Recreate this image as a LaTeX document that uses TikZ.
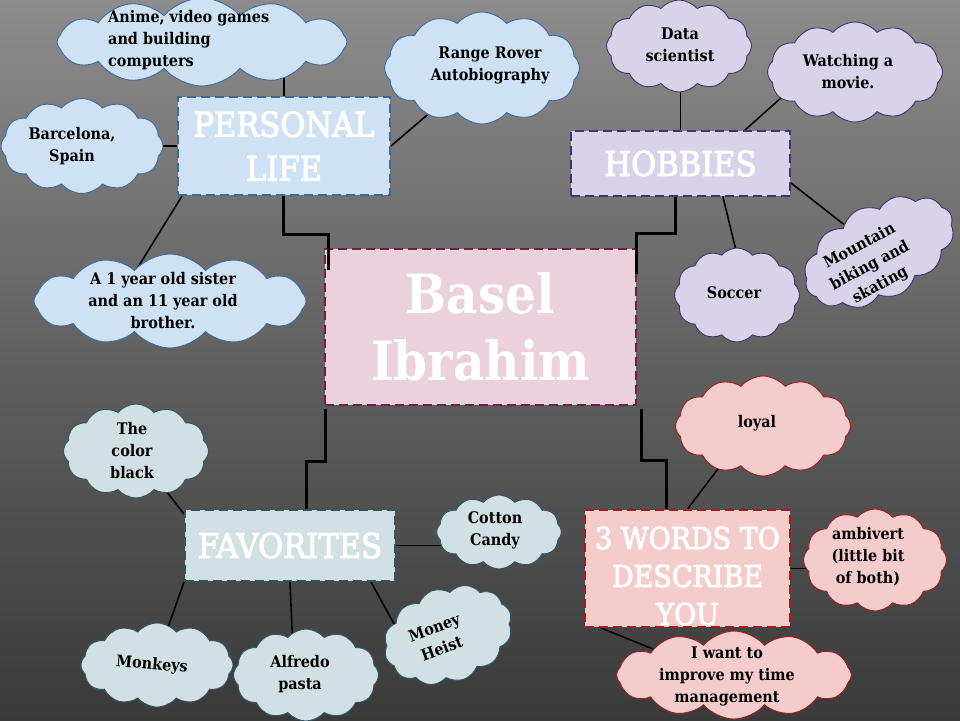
\documentclass[tikz,border=0pt]{standalone}
\usepackage{fontspec}
\setmainfont{DejaVu Serif Condensed}
\newfontfamily\headfont[FakeBold=3]{DejaVu Serif Condensed}
\usetikzlibrary{shapes.symbols,calc}
\pgfdeclarelayer{bglayer}
\pgfdeclarelayer{linelayer}
\pgfsetlayers{bglayer,linelayer,main}
\definecolor{bgtop}{HTML}{8C8C8C}
\definecolor{bgmid}{HTML}{606060}
\definecolor{bgbot}{HTML}{3A3A3A}
\definecolor{blfill}{HTML}{CFE2F3}
\definecolor{bldraw}{HTML}{3D6A9E}
\definecolor{pufill}{HTML}{D9D2E9}
\definecolor{pudraw}{HTML}{3F3470}
\definecolor{tefill}{HTML}{D0E0E3}
\definecolor{tedraw}{HTML}{2F5663}
\definecolor{pkfill}{HTML}{F4CCCC}
\definecolor{pkdraw}{HTML}{A01C1C}
\definecolor{ctfill}{HTML}{EAD1DC}
\definecolor{ctdraw}{HTML}{741B47}
\tikzset{
  catbox/.style 2 args={rectangle, fill=#1, draw=#2, line width=2pt,
    dash pattern=on 9pt off 5pt,
    preaction={draw=white!55!#1, line width=2pt},
    text=white, align=center, inner sep=0pt,
    font=\headfont\fontsize{34}{44}\selectfont},
  cloudb/.style 2 args={cloud, cloud puffs=12, cloud puff arc=100,
    cloud ignores aspect, fill=#1, draw=#2, line width=0.9pt, inner sep=0pt},
  ctext/.style={align=center, text=black,
    font=\bfseries\fontsize{16}{22}\selectfont, inner sep=0pt},
  thinline/.style={draw=black, line width=1.6pt},
  thickline/.style={draw=black, line width=3pt}
}
\begin{document}
\begin{tikzpicture}[x=1pt,y=-1pt]
\useasboundingbox (0,0) rectangle (960,720);
\begin{pgfonlayer}{bglayer}
\shade[top color=bgtop, bottom color=bgbot, middle color=bgmid] (0,0) rectangle (960,720);
\end{pgfonlayer}

% category boxes
\node[catbox={ctfill}{ctdraw}, minimum width=311pt, minimum height=156pt,
  font=\bfseries\fontsize{54}{69}\selectfont] (ct) at (480.5,327) {Basel\\[-2pt]Ibrahim};
\node[catbox={blfill}{bldraw}, minimum width=212pt, minimum height=98pt] (pl) at (284,146) {PERSONAL\\LIFE};
\node[catbox={pufill}{pudraw}, minimum width=219pt, minimum height=65pt] (hb) at (680.5,163.5) {HOBBIES};
\node[catbox={tefill}{tedraw}, minimum width=210pt, minimum height=71pt] (fv) at (290,545.5) {FAVORITES};
\node[catbox={pkfill}{pkdraw}, minimum width=205pt, minimum height=117pt] (tw) at (687.5,568.5) {};
\node[text=white, align=center, inner sep=0pt, font=\headfont\fontsize{30}{38}\selectfont] (twtext) at (687.5,576) {3 WORDS TO\\DESCRIBE\\YOU};

% clouds: personal life
\node[cloudb={blfill}{bldraw}, minimum width=290pt, minimum height=88pt] (anime) at (202,42) {};
\node[ctext, align=left, anchor=west] (animetxt) at (108,40) {Anime, video games\\and building\\computers};
\node[cloudb={blfill}{bldraw}, minimum width=195pt, minimum height=112pt] (range) at (482,68) {};
\node[ctext] (rangetxt) at (490,65) {Range Rover\\Autobiography};
\node[cloudb={blfill}{bldraw}, minimum width=162pt, minimum height=95pt] (barc) at (82,146) {};
\node[ctext] (barctxt) at (72,146) {Barcelona,\\Spain};
\node[cloudb={blfill}{bldraw}, minimum width=272pt, minimum height=94pt] (sister) at (170,301) {};
\node[ctext] (sistertxt) at (163,301) {A 1 year old sister\\and an 11 year old\\brother.};

% clouds: hobbies
\node[cloudb={pufill}{pudraw}, minimum width=145pt, minimum height=92pt] (data) at (679,46) {};
\node[ctext] (datatxt) at (680,45) {Data\\scientist};
\node[cloudb={pufill}{pudraw}, minimum width=175pt, minimum height=100pt] (watch) at (855,72) {};
\node[ctext] (watchtxt) at (848,72) {Watching a\\movie.};
\node[cloudb={pufill}{pudraw}, minimum width=125pt, minimum height=94pt] (soccer) at (737,295) {};
\node[ctext] (soccertxt) at (734,293) {Soccer};
\node[cloudb={pufill}{pudraw}, minimum width=162pt, minimum height=94pt, rotate=28] (mount) at (879,252) {};
\node[ctext, rotate=28] (mounttxt) at (870,266) {Mountain\\biking and\\skating};

% clouds: favorites
\node[cloudb={tefill}{tedraw}, minimum width=145pt, minimum height=94pt] (black) at (136,451) {};
\node[ctext] (blacktxt) at (132,451) {The\\color\\black};
\node[cloudb={tefill}{tedraw}, minimum width=125pt, minimum height=74pt] (cotton) at (499,532) {};
\node[ctext] (cottontxt) at (495,530) {Cotton\\Candy};
\node[cloudb={tefill}{tedraw}, minimum width=152pt, minimum height=84pt] (monkeys) at (157,665) {};
\node[ctext, rotate=-5] (monkeystxt) at (152,665) {Monkeys};
\node[cloudb={tefill}{tedraw}, minimum width=145pt, minimum height=92pt] (alfredo) at (306,675) {};
\node[ctext] (alfredotxt) at (300,674) {Alfredo\\pasta};
\node[cloudb={tefill}{tedraw}, minimum width=132pt, minimum height=94pt, rotate=20] (money) at (448,635) {};
\node[ctext, rotate=20] (moneytxt) at (438,638) {Money\\Heist};

% clouds: 3 words
\node[cloudb={pkfill}{pkdraw}, minimum width=175pt, minimum height=100pt] (loyal) at (763,426) {};
\node[ctext] (loyaltxt) at (757,423) {loyal};
\node[cloudb={pkfill}{pkdraw}, minimum width=143pt, minimum height=102pt] (ambi) at (875,560) {};
\node[ctext] (ambitxt) at (868,557) {ambivert\\(little bit\\of both)};
\node[cloudb={pkfill}{pkdraw}, minimum width=235pt, minimum height=88pt] (impr) at (734,675) {};
\node[ctext] (imprtxt) at (727,676) {I want to\\improve my time\\management};

% thin connectors (under nodes)
\begin{pgfonlayer}{linelayer}
\draw[thinline] (pl.north) -- (pl.north |- anime.center);
\draw[thinline] (pl.east) -- (range);
\draw[thinline] (pl.west) -- (barc);
\draw[thinline] ($(pl.south west)+(5,0)$) -- ($(sister)+(-40,-21)$);
\draw[thinline] (hb.north) -- (hb.north |- data.center);
\draw[thinline] ($(hb.north)+(64.5,0)$) -- ($(watch)+(-55,9)$);
\draw[thinline] ($(hb.south)+(41.5,-4)$) -- ($(soccer)+(5,-20)$);
\draw[thinline] ($(hb.east)+(0,19.5)$) -- (mount);
\draw[thinline] ($(fv.north west)+(0,5)$) -- ($(black)+(14,19)$);
\draw[thinline] (fv.east) -- (fv.east -| cotton.center);
\draw[thinline] (fv.south west) -- ($(monkeys)+(3,-15)$);
\draw[thinline] (fv.south) -- ($(alfredo)+(-12,0)$);
\draw[thinline] ($(fv.south east)+(-25,0)$) -- ($(money)+(-45,5)$);
\draw[thinline] (tw.north) -- ($(loyal)+(-20,10)$);
\draw[thinline] (tw.east) -- (tw.east -| ambi.center);
\draw[thinline] ($(tw.south west)+(17,0)$) -- ($(impr)+(-34,-7)$);
\end{pgfonlayer}

% thick stepped connectors
\draw[thickline] ($(pl.south)+(-1,0)$) -- ++(0,38) -| ($(ct.north west)+(4,22)$);
\draw[thickline] ($(hb.south)+(-5.5,0)$) -- ++(0,36) -| ($(ct.north east)+(-1,26)$);
\draw[thickline] ($(ct.south west)+(1,3)$) -- ++(0,52) -| ($(fv.north)+(16,0)$);
\draw[thickline] ($(ct.south east)+(4,3)$) -- ++(0,51) -| ($(tw.north)+(-21.5,0)$);
\end{tikzpicture}
\end{document}
